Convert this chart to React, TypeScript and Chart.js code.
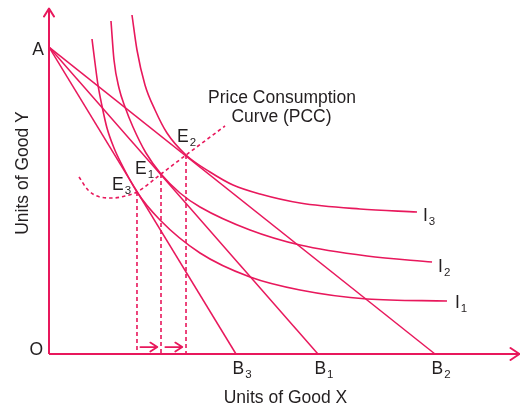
import React, { useEffect, useRef } from "react";
import { Chart, registerables } from "chart.js";

Chart.register(...registerables);

// ---- Data (units of good X / units of good Y, 0..100 scale) ----
const A_Y = 88.7; // budget line intercept on Y axis (point A)
const budgetNames = ["B3", "B1", "B2"];
const budgetX = [39.7, 57.1, 81.95];

const i1X = [9.13, 9.77, 10.4, 11.25, 12.31, 13.8, 15.29, 18.68, 23.57, 32.06, 42.68, 53.29, 67.52, 84.5];
const i1Y = [91.04, 84.1, 77.75, 71.68, 65.32, 59.54, 55.2, 46.82, 38.73, 29.19, 22.25, 18.5, 15.9, 15.32];

const i2X = [13.16, 13.8, 14.86, 16.14, 17.83, 20.59, 23.78, 27.81, 32.06, 42.68, 53.29, 67.52, 81.32];
const i2Y = [96.24, 84.97, 76.88, 71.39, 65.61, 58.09, 52.02, 46.53, 42.49, 35.84, 31.5, 28.32, 26.59];

const i3X = [17.62, 18.68, 20.38, 22.51, 25.05, 29.09, 34.18, 39.07, 44.8, 53.29, 66.03, 78.13];
const i3Y = [97.98, 87.86, 77.75, 70.52, 63.87, 57.51, 52.6, 48.84, 46.24, 43.64, 41.91, 41.04];

const pccX = [6.37, 8.28, 10.83, 13.59, 16.14, 18.68, 23.78, 29.09, 37.37];
const pccY = [51.16, 47.4, 45.38, 45.09, 45.66, 46.82, 52.02, 57.51, 65.9];

const eqNames = ["E3", "E1", "E2"];
const eqX = [18.68, 23.78, 29.09];
const eqY = [46.82, 52.02, 57.51];

const shiftFrom = [19.4, 24.7];
const shiftTo = [23.0, 28.3];
const shiftY = 2.0;

const curveNames = ["I1", "I2", "I3"];

const RED = "#e8185c";
const TXT = "#231f20";
const FONT = '"Liberation Sans", Arial, Helvetica, sans-serif';

const zip = (xs: number[], ys: number[]) => xs.map((x, i) => ({ x, y: ys[i] }));

function drawSub(ctx: CanvasRenderingContext2D, text: string, x: number, y: number) {
  const main = text.charAt(0);
  const sub = text.slice(1);
  ctx.font = `17.5px ${FONT}`;
  const mw = ctx.measureText(main).width;
  ctx.textAlign = "left";
  ctx.fillText(main, x, y);
  ctx.font = `11.5px ${FONT}`;
  ctx.fillText(sub, x + mw + 1, y + 4);
}

const labelPlugin = {
  id: "econLabels",
  afterDatasetsDraw(chart: any) {
    const ctx: CanvasRenderingContext2D = chart.ctx;
    const xs = chart.scales.x;
    const ys = chart.scales.y;
    const px = (v: number) => xs.getPixelForValue(v);
    const py = (v: number) => ys.getPixelForValue(v);
    const ca = chart.chartArea;
    ctx.save();
    // axis arrowheads
    ctx.strokeStyle = RED;
    ctx.lineWidth = 2;
    ctx.lineCap = "round";
    ctx.lineJoin = "round";
    const ox = px(0), oy = py(0);
    ctx.beginPath();
    ctx.moveTo(ox - 5, ca.top + 8.5);
    ctx.lineTo(ox, ca.top + 0.5);
    ctx.lineTo(ox + 5, ca.top + 8.5);
    ctx.moveTo(ca.right - 9.5, oy - 6);
    ctx.lineTo(ca.right - 0.5, oy);
    ctx.lineTo(ca.right - 9.5, oy + 6);
    ctx.stroke();

    // small shift arrows
    ctx.lineWidth = 1.8;
    for (let i = 0; i < shiftFrom.length; i++) {
      const x0 = px(shiftFrom[i]), x1 = px(shiftTo[i]), yy = py(shiftY);
      ctx.beginPath();
      ctx.moveTo(x0, yy);
      ctx.lineTo(x1, yy);
      ctx.moveTo(x1 - 7, yy - 4.5);
      ctx.lineTo(x1, yy);
      ctx.lineTo(x1 - 7, yy + 4.5);
      ctx.stroke();
    }

    ctx.fillStyle = TXT;
    ctx.textBaseline = "alphabetic";
    // A and O
    ctx.font = `17.5px ${FONT}`;
    ctx.textAlign = "right";
    ctx.fillText("A", ox - 5, py(A_Y) + 8);
    ctx.fillText("O", ox - 6, oy + 1);

    // budget labels
    budgetNames.forEach((n, i) => drawSub(ctx, n, px(budgetX[i]) - 3.5, oy + 20));

    // equilibrium labels
    const eOff = [[-25, -2], [-26, 0], [-9, -13]];
    eqNames.forEach((n, i) => drawSub(ctx, n, px(eqX[i]) + eOff[i][0], py(eqY[i]) + eOff[i][1]));

    // indifference curve labels
    const ends = [
      [i1X[i1X.length - 1], i1Y[i1Y.length - 1], 8, 7],
      [i2X[i2X.length - 1], i2Y[i2Y.length - 1], 6, 10],
      [i3X[i3X.length - 1], i3Y[i3Y.length - 1], 6, 9],
    ];
    curveNames.forEach((n, i) => drawSub(ctx, n, px(ends[i][0]) + ends[i][2], py(ends[i][1]) + ends[i][3]));

    // PCC label
    const pe = pccX.length - 1;
    const lx = px(pccX[pe]), ly = py(pccY[pe]);
    ctx.font = `17.5px ${FONT}`;
    ctx.textAlign = "center";
    ctx.fillText("Price Consumption", lx + 57, ly - 22.5);
    ctx.fillText("Curve (PCC)", lx + 56.5, ly - 3.5);

    // axis titles
    ctx.fillText("Units of Good X", (ca.left + ca.right) / 2 + 1, 403);
    ctx.save();
    ctx.translate(28, 173);
    ctx.rotate(-Math.PI / 2);
    ctx.fillText("Units of Good Y", 0, 0);
    ctx.restore();
    ctx.restore();
  },
};

export default function App() {
  const ref = useRef<HTMLCanvasElement | null>(null);
  useEffect(() => {
    if (!ref.current) return;
    const base = { showLine: true, pointRadius: 0, borderColor: RED, clip: false as any, fill: false };
    const datasets: any[] = [];
    // axes
    datasets.push({ ...base, data: [{ x: 0, y: 0 }, { x: 0, y: 100 }], borderWidth: 2 });
    datasets.push({ ...base, data: [{ x: 0, y: 0 }, { x: 100, y: 0 }], borderWidth: 2 });
    // budget lines
    budgetX.forEach((bx) =>
      datasets.push({ ...base, data: [{ x: 0, y: A_Y }, { x: bx, y: 0 }], borderWidth: 1.5 })
    );
    // indifference curves
    [zip(i1X, i1Y), zip(i2X, i2Y), zip(i3X, i3Y)].forEach((d) =>
      datasets.push({ ...base, data: d, borderWidth: 1.6, cubicInterpolationMode: "monotone" })
    );
    // PCC
    datasets.push({
      ...base,
      data: zip(pccX, pccY),
      borderWidth: 1.6,
      borderDash: [3.5, 3],
      cubicInterpolationMode: "monotone",
    });
    // drop lines
    eqX.forEach((ex, i) =>
      datasets.push({
        ...base,
        data: [{ x: ex, y: eqY[i] }, { x: ex, y: 0 }],
        borderWidth: 1.6,
        borderDash: [4, 3],
      })
    );

    const chart = new Chart(ref.current, {
      type: "scatter",
      data: { datasets },
      options: {
        animation: false,
        responsive: false,
        devicePixelRatio: 1,
        layout: { padding: { left: 49, right: 0, top: 8, bottom: 53 } },
        plugins: { legend: { display: false }, tooltip: { enabled: false } },
        scales: {
          x: { type: "linear", min: 0, max: 100, display: false },
          y: { type: "linear", min: 0, max: 100, display: false },
        },
      },
      plugins: [labelPlugin],
    });
    return () => chart.destroy();
  }, []);
  return (
    <div style={{ position: "absolute", left: 0, top: 0, width: 520, height: 407, background: "#fff" }}>
      <canvas ref={ref} width={520} height={407} style={{ width: 520, height: 407, display: "block" }} />
    </div>
  );
}
